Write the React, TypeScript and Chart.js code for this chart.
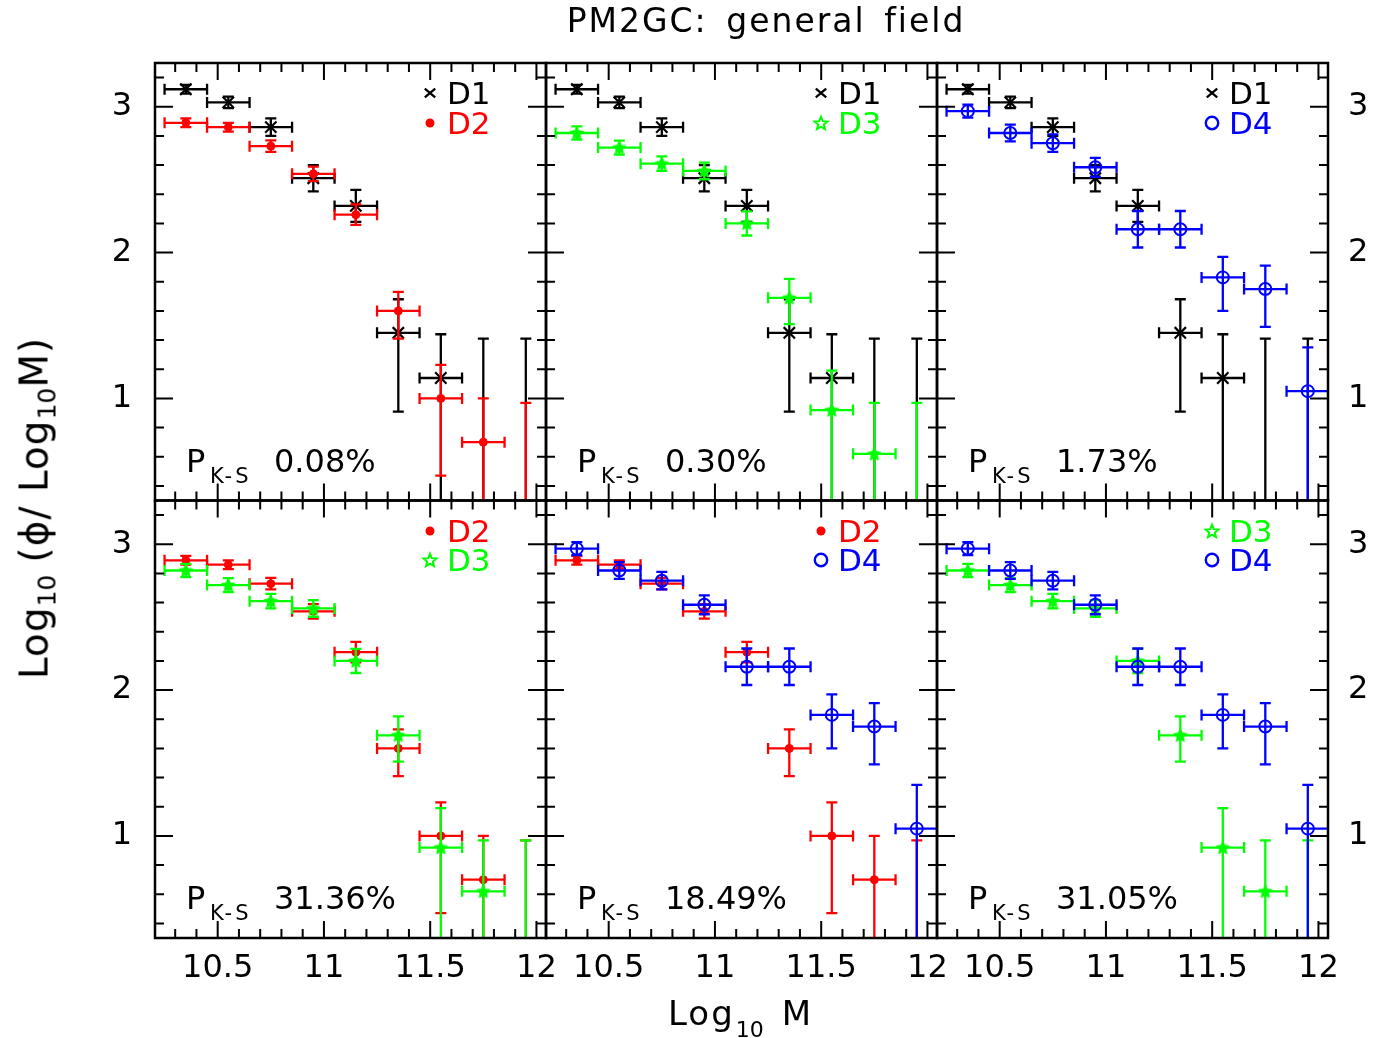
import React, { useEffect, useRef } from "react";
import { Chart, registerables } from "chart.js";

Chart.register(...registerables);

// ---------------- data ----------------
const massBins = [10.35, 10.55, 10.75, 10.95, 11.15, 11.35, 11.55, 11.75, 11.95];
const massHalfWidth = [0.1, 0.1, 0.1, 0.1, 0.1, 0.1, 0.1, 0.1, 0.1];

const d1LogPhi = [3.12, 3.03, 2.86, 2.51, 2.32, 1.45, 1.14, 0.1, 0.1];
const d1ErrUp = [0.03, 0.04, 0.06, 0.09, 0.11, 0.23, 0.3, 1.31, 1.31];
const d1ErrDown = [0.03, 0.04, 0.06, 0.09, 0.11, 0.54, 1.0, 0.5, 0.5];

const d2LogPhi = [2.89, 2.86, 2.73, 2.54, 2.26, 1.6, 1.0, 0.7, 0.1];
const d2ErrUp = [0.03, 0.03, 0.04, 0.05, 0.07, 0.13, 0.23, 0.3, 0.87];
const d2ErrDown = [0.03, 0.03, 0.04, 0.05, 0.07, 0.19, 0.53, 0.6, 0.5];

const d3LogPhi = [2.82, 2.72, 2.61, 2.56, 2.2, 1.69, 0.92, 0.62, 0.1];
const d3ErrUp = [0.045, 0.048, 0.05, 0.057, 0.083, 0.13, 0.27, 0.35, 0.87];
const d3ErrDown = [0.045, 0.048, 0.05, 0.057, 0.083, 0.18, 0.8, 0.5, 0.5];

const d4LogPhi = [2.97, 2.82, 2.75, 2.585, 2.16, 2.16, 1.83, 1.75, 1.05];
const d4ErrUp = [0.045, 0.057, 0.06, 0.065, 0.125, 0.125, 0.14, 0.16, 0.3];
const d4ErrDown = [0.045, 0.057, 0.06, 0.065, 0.125, 0.125, 0.23, 0.26, 1.0];

const seriesNames = ["D1", "D2", "D3", "D4"];
const seriesColors = ["#000000", "#ff0000", "#00ff00", "#0000ff"];

// panels: row-major, each lists the two series shown (indices into seriesNames)
const panelSeries = [
  [0, 1],
  [0, 2],
  [0, 3],
  [1, 2],
  [1, 3],
  [2, 3],
];
const ksValues = ["0.08%", "0.30%", "1.73%", "31.36%", "18.49%", "31.05%"];

const xRange = [10.205, 12.045];
const yRange = [0.3, 3.3];
const xTicks = [10.5, 11, 11.5, 12];
const xTickLabels = ["10.5", "11", "11.5", "12"];
const yTicks = [1, 2, 3];
const yTickLabels = ["1", "2", "3"];

const titleText = "PM2GC: general field";

// ---------------- layout ----------------
const W = 1385;
const H = 1038;
const PLOT_L = 155;
const PLOT_R = 1328;
const PLOT_T = 63;
const PLOT_B = 938;
const PANEL_W = (PLOT_R - PLOT_L) / 3;
const PANEL_H = (PLOT_B - PLOT_T) / 2;
const FONT = '"DejaVu Sans", "Liberation Sans", sans-serif';

const xAxisIds = ["x0", "x1", "x2"];
const yAxisIds = ["yT", "yB"];

const seriesTable = [
  { v: d1LogPhi, up: d1ErrUp, dn: d1ErrDown },
  { v: d2LogPhi, up: d2ErrUp, dn: d2ErrDown },
  { v: d3LogPhi, up: d3ErrUp, dn: d3ErrDown },
  { v: d4LogPhi, up: d4ErrUp, dn: d4ErrDown },
];

function makeStar(color: string) {
  const size = 16;
  const c = document.createElement("canvas");
  c.width = size;
  c.height = size;
  const g = c.getContext("2d")!;
  g.fillStyle = color;
  g.strokeStyle = color;
  g.lineWidth = 1;
  g.beginPath();
  for (let k = 0; k < 10; k++) {
    const r = k % 2 === 0 ? 7 : 3.3;
    const a = -Math.PI / 2 + (k * Math.PI) / 5;
    const x = size / 2 + r * Math.cos(a);
    const y = size / 2 + 0.5 + r * Math.sin(a);
    if (k === 0) g.moveTo(x, y);
    else g.lineTo(x, y);
  }
  g.closePath();
  g.fill();
  g.stroke();
  return c;
}

const errorBarPlugin = {
  id: "errorBars",
  beforeDatasetDraw(chart: any, args: any) {
    const meta = args.meta;
    const ds: any = chart.data.datasets[args.index];
    if (!ds.errUp) return;
    const xs = meta.xScale;
    const ys = meta.yScale;
    const ctx = chart.ctx;
    ctx.save();
    ctx.beginPath();
    ctx.rect(xs.left, ys.top, xs.right - xs.left, ys.bottom - ys.top);
    ctx.clip();
    ctx.strokeStyle = ds.borderColor;
    ctx.lineWidth = 2.3;
    const cap = 5.5;
    ds.data.forEach((p: any, i: number) => {
      const px = xs.getPixelForValue(p.x);
      const py = ys.getPixelForValue(p.y);
      const xl = xs.getPixelForValue(p.x - ds.errX[i]);
      const xr = xs.getPixelForValue(p.x + ds.errX[i]);
      const yt = ys.getPixelForValue(p.y + ds.errUp[i]);
      const yb = ys.getPixelForValue(p.y - ds.errDown[i]);
      ctx.beginPath();
      ctx.moveTo(xl, py);
      ctx.lineTo(xr, py);
      ctx.moveTo(xl, py - cap);
      ctx.lineTo(xl, py + cap);
      ctx.moveTo(xr, py - cap);
      ctx.lineTo(xr, py + cap);
      ctx.moveTo(px, yt);
      ctx.lineTo(px, yb);
      ctx.moveTo(px - cap, yt);
      ctx.lineTo(px + cap, yt);
      ctx.moveTo(px - cap, yb);
      ctx.lineTo(px + cap, yb);
      ctx.stroke();
    });
    ctx.restore();
  },
};

const framePlugin = {
  id: "panelFrames",
  afterDatasetsDraw(chart: any) {
    const ctx = chart.ctx;
    ctx.save();
    ctx.strokeStyle = "#000";
    for (const xid of xAxisIds) {
      for (const yid of yAxisIds) {
        const xs = chart.scales[xid];
        const ys = chart.scales[yid];
        const L = xs.left;
        const R = xs.right;
        const T = ys.top;
        const B = ys.bottom;
        ctx.lineWidth = 2;
        ctx.beginPath();
        for (let k = Math.ceil(xs.min * 10 - 1e-6); k <= Math.floor(xs.max * 10 + 1e-6); k++) {
          const len = k % 5 === 0 ? 17 : 9;
          const px = xs.getPixelForValue(k / 10);
          ctx.moveTo(px, B);
          ctx.lineTo(px, B - len);
          ctx.moveTo(px, T);
          ctx.lineTo(px, T + len);
        }
        for (let k = Math.ceil(ys.min * 5 - 1e-6); k <= Math.floor(ys.max * 5 + 1e-6); k++) {
          const len = k % 5 === 0 ? 18 : 9;
          const py = ys.getPixelForValue(k / 5);
          ctx.moveTo(L, py);
          ctx.lineTo(L + len, py);
          ctx.moveTo(R, py);
          ctx.lineTo(R - len, py);
        }
        ctx.stroke();
        ctx.lineWidth = 2.5;
        ctx.strokeRect(L, T, R - L, B - T);
      }
    }
    ctx.restore();
  },
};

function xScaleCfg(i: number) {
  return {
    type: "linear",
    position: "bottom",
    stack: "xstack",
    stackWeight: 1,
    weight: i + 1,
    min: xRange[0],
    max: xRange[1],
    grid: { display: false, drawTicks: false },
    border: { display: false },
    afterBuildTicks: (s: any) => {
      s.ticks = xTicks.map((v) => ({ value: v }));
    },
    afterFit: (s: any) => {
      s.height = 70;
    },
    ticks: {
      autoSkip: false,
      maxRotation: 0,
      minRotation: 0,
      padding: 11,
      color: "#000",
      font: { family: FONT, size: 32 },
      callback: (_v: any, idx: number) => xTickLabels[idx],
    },
  };
}

function yScaleCfg(side: "left" | "right", weight: number, stack: string) {
  return {
    type: "linear",
    position: side,
    stack,
    stackWeight: 1,
    weight,
    min: yRange[0],
    max: yRange[1],
    grid: { display: false, drawTicks: false },
    border: { display: false },
    afterBuildTicks: (s: any) => {
      s.ticks = yTicks.map((v) => ({ value: v }));
    },
    afterFit: (s: any) => {
      s.width = side === "left" ? 60 : 50;
    },
    ticks: {
      autoSkip: false,
      padding: side === "left" ? 23 : 20,
      color: "#000",
      font: { family: FONT, size: 32 },
      callback: (_v: any, idx: number) => yTickLabels[idx],
    },
  };
}

function ChartCanvas() {
  const ref = useRef<HTMLCanvasElement | null>(null);
  useEffect(() => {
    if (!ref.current) return;
    const star = makeStar("#00ff00");
    const pointStyles: any[] = ["crossRot", "circle", star, "circle"];
    const radii = [8, 4, 8, 6];
    const borderW = [2.2, 1, 1, 2];
    const fills = ["#000000", "#ff0000", "#00ff00", "rgba(0,0,0,0)"];

    const datasets: any[] = [];
    panelSeries.forEach((pair, p) => {
      const col = p % 3;
      const row = Math.floor(p / 3);
      pair.forEach((s, k) => {
        const t = seriesTable[s];
        datasets.push({
          type: "scatter",
          label: `${seriesNames[s]} panel ${p + 1}`,
          xAxisID: xAxisIds[col],
          yAxisID: yAxisIds[row],
          order: k === 0 ? 1 : 0,
          data: massBins.map((x, i) => ({ x, y: t.v[i] })),
          errX: massHalfWidth,
          errUp: t.up,
          errDown: t.dn,
          borderColor: seriesColors[s],
          backgroundColor: fills[s],
          pointStyle: pointStyles[s],
          pointRadius: radii[s],
          pointBorderWidth: borderW[s],
          pointBorderColor: seriesColors[s],
          pointBackgroundColor: fills[s],
          showLine: false,
          clip: 0,
        });
      });
    });

    const chart = new Chart(ref.current, {
      type: "scatter",
      data: { datasets },
      plugins: [errorBarPlugin, framePlugin],
      options: {
        responsive: false,
        animation: false,
        devicePixelRatio: 1,
        events: [],
        layout: {
          padding: {
            left: PLOT_L - 60,
            right: W - PLOT_R - 50,
            top: PLOT_T,
            bottom: H - PLOT_B - 70,
          },
        },
        plugins: {
          legend: { display: false },
          tooltip: { enabled: false },
          title: { display: false },
        },
        scales: {
          x0: xScaleCfg(0),
          x1: xScaleCfg(1),
          x2: xScaleCfg(2),
          yT: yScaleCfg("left", 2, "yleft"),
          yB: yScaleCfg("left", 1, "yleft"),
          yTR: yScaleCfg("right", 1, "yright"),
          yBR: yScaleCfg("right", 2, "yright"),
        },
      } as any,
    } as any);
    return () => chart.destroy();
  }, []);
  return (
    <canvas
      ref={ref}
      width={W}
      height={H}
      style={{ position: "absolute", left: 0, top: 0, width: W, height: H }}
    />
  );
}

// text placed so that its cap-height centre sits at y
function Txt(props: {
  x: number;
  y: number;
  size: number;
  color?: string;
  children: React.ReactNode;
  style?: React.CSSProperties;
}) {
  const { x, y, size, color, children, style } = props;
  return (
    <div
      style={{
        position: "absolute",
        left: x,
        top: y - 0.4815 * size,
        fontSize: size,
        lineHeight: 1,
        color: color || "#000",
        whiteSpace: "nowrap",
        fontFamily: FONT,
        ...style,
      }}
    >
      {children}
    </div>
  );
}

function Marker(props: { s: number; cx: number; cy: number }) {
  const { s, cx, cy } = props;
  const c = seriesColors[s];
  let shape: React.ReactNode = null;
  if (s === 0) {
    shape = <path d="M-5.2,-4.4 L5.2,4.4 M-5.2,4.4 L5.2,-4.4" stroke={c} strokeWidth={2.3} fill="none" />;
  } else if (s === 1) {
    shape = <circle cx={0} cy={0} r={4.5} fill={c} />;
  } else if (s === 2) {
    const pts: string[] = [];
    for (let k = 0; k < 10; k++) {
      const r = k % 2 === 0 ? 6.8 : 3;
      const a = -Math.PI / 2 + (k * Math.PI) / 5;
      pts.push(`${(r * Math.cos(a)).toFixed(2)},${(r * Math.sin(a) + 0.6).toFixed(2)}`);
    }
    shape = <polygon points={pts.join(" ")} stroke={c} strokeWidth={2} fill="none" strokeLinejoin="miter" />;
  } else {
    shape = <circle cx={0} cy={0} r={6.2} stroke={c} strokeWidth={2.4} fill="none" />;
  }
  return (
    <svg
      width={20}
      height={20}
      viewBox="-10 -10 20 20"
      style={{ position: "absolute", left: cx - 10, top: cy - 10 }}
    >
      {shape}
    </svg>
  );
}

export default function App() {
  const overlays: React.ReactNode[] = [];
  panelSeries.forEach((pair, p) => {
    const col = p % 3;
    const row = Math.floor(p / 3);
    const ox = PLOT_L + col * PANEL_W;
    const oy = PLOT_T + row * PANEL_H;
    pair.forEach((s, k) => {
      const cy = oy + 30 + k * 29.5;
      overlays.push(<Marker key={`m${p}${k}`} s={s} cx={ox + 275} cy={cy} />);
      overlays.push(
        <Txt key={`l${p}${k}`} x={ox + 292} y={cy} size={31} color={seriesColors[s]}>
          {seriesNames[s]}
        </Txt>
      );
    });
    overlays.push(
      <Txt key={`p${p}`} x={ox + 31} y={oy + 397} size={32}>
        P
      </Txt>
    );
    overlays.push(
      <Txt key={`ps${p}`} x={ox + 55} y={oy + 413} size={21} style={{ letterSpacing: 3 }}>
        K-S
      </Txt>
    );
    overlays.push(
      <Txt key={`pv${p}`} x={ox + 119} y={oy + 397} size={32}>
        {ksValues[p]}
      </Txt>
    );
  });

  return (
    <div
      style={{
        position: "absolute",
        left: 0,
        top: 0,
        width: W,
        height: H,
        background: "#fff",
        overflow: "hidden",
        fontFamily: FONT,
      }}
    >
      <ChartCanvas />
      {overlays}
      <div
        style={{
          position: "absolute",
          left: 766,
          top: 20 - 0.4815 * 33,
          transform: "translateX(-50%)",
          fontSize: 33,
          lineHeight: 1,
          letterSpacing: 2,
          wordSpacing: 6,
          whiteSpace: "nowrap",
        }}
      >
        {titleText}
      </div>
      <div
        style={{
          position: "absolute",
          left: 668,
          top: 1012.5 - 0.4815 * 34,
          fontSize: 34,
          lineHeight: 1,
          letterSpacing: 2,
          whiteSpace: "nowrap",
        }}
      >
        Log
        <span style={{ fontSize: 22, position: "relative", top: 12, letterSpacing: 0, marginLeft: 1 }}>10</span>
        <span style={{ marginLeft: 18 }}>M</span>
      </div>
      <div
        style={{
          position: "absolute",
          left: 34,
          top: 508,
          transform: "translate(-50%, -50%) rotate(-90deg)",
          fontSize: 39,
          lineHeight: 1,
          letterSpacing: 1,
          whiteSpace: "nowrap",
        }}
      >
        Log
        <span style={{ fontSize: 25, position: "relative", top: 8, letterSpacing: 0 }}>10</span>
        <span style={{ marginLeft: 12 }}>(ϕ/ Log</span>
        <span style={{ fontSize: 25, position: "relative", top: 8, letterSpacing: 0 }}>10</span>
        <span>M)</span>
      </div>
    </div>
  );
}
